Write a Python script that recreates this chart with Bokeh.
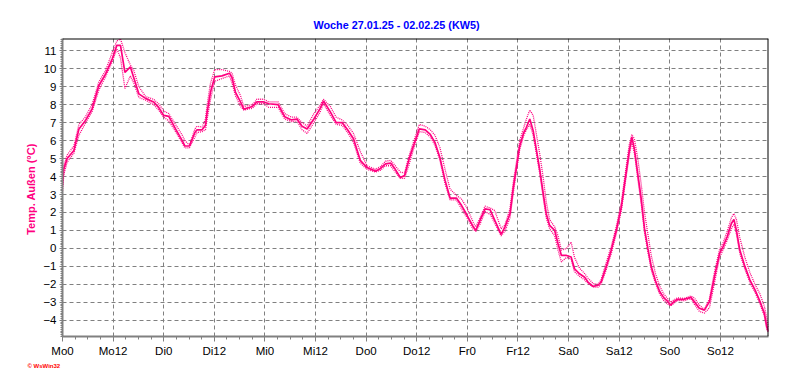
from bokeh.plotting import figure
from bokeh.models import Range1d, FixedTicker, Span, Title
from bokeh.embed import file_html
from bokeh.resources import INLINE

# ---- data (hours since Monday 00:00, temperature in °C) ----
hours = [0, 0.3, 1.1, 2.7, 3.9, 5.4, 7.0, 8.6, 10.2, 11.8, 12.9, 13.75, 14.8, 16.1, 16.9,
         18.1, 19.7, 21.6, 22.8, 24.0, 25.2, 26.8, 28.4, 29.0, 30.1, 31.4, 31.9, 33.1, 33.9,
         34.3, 35.1, 36.1, 37.8, 39.6, 40.2, 41.0, 42.2, 43.0, 45.0, 46.1, 47.7, 48.9, 51.1,
         52.7, 54.3, 55.6, 56.8, 58.0, 59.6, 61.0, 61.9, 63.5, 64.9, 66.3, 67.6, 69.0, 70.6,
         72.2, 74.2, 75.4, 76.6, 77.8, 78.9, 80.1, 81.1, 82.1, 83.2, 84.6, 86.0, 87.2, 88.3,
         89.5, 90.7, 91.9, 93.4, 94.6, 95.8, 97.4, 98.0, 99.0, 100.2, 101.4, 102.5, 104.0,
         104.9, 106.1, 106.9, 107.7, 108.4, 109.4, 110.0, 110.8, 111.6, 112.4, 113.2, 114.0,
         114.7, 115.5, 116.7, 117.5, 118.3, 119.5, 120.6, 121.4, 122.6, 123.8, 124.6, 125.8,
         127.0, 127.7, 128.9, 130.1, 131.3, 132.5, 133.6, 134.4, 135.0, 135.6, 136.4, 137.2,
         138.0, 138.8, 139.6, 140.6, 141.6, 142.6, 143.5, 144.2, 145.0, 145.8, 147.4, 149.0,
         149.8, 151.0, 152.2, 153.4, 154.6, 155.8, 156.6, 157.6, 158.6, 159.2, 159.8, 160.6,
         161.8, 163.0, 164.2, 165.4, 166.4, 167.0, 167.4]

temp = [3.5, 4.4, 5.0, 5.45, 6.65, 7.1, 7.75, 9.05, 9.7, 10.55, 11.3, 11.3, 9.8, 10.1, 9.5,
        8.6, 8.35, 8.15, 7.85, 7.4, 7.35, 6.65, 6.0, 5.7, 5.7, 6.45, 6.6, 6.6, 6.85,
        7.6, 8.7, 9.55, 9.6, 9.75, 9.5, 8.7, 8.15, 7.75, 7.9, 8.15, 8.15, 8.05, 8.0,
        7.33, 7.15, 7.2, 6.8, 6.65, 7.2, 7.75, 8.2, 7.6, 7.0, 7.0, 6.6, 6.1, 4.9,
        4.5, 4.3, 4.45, 4.7, 4.75, 4.4, 3.95, 4.05, 4.9, 5.7, 6.65, 6.6, 6.35, 5.9,
        5.05, 3.8, 2.8, 2.8, 2.4, 1.9, 1.2, 1.0, 1.56, 2.2, 2.15, 1.56, 0.78,
        1.19, 1.93, 3.4, 4.6, 5.7, 6.46, 6.74, 7.2, 6.55, 5.44, 4.33, 3.04,
        1.93, 1.28, 1.0, 0.26, -0.39, -0.39, -0.48, -1.13, -1.41, -1.6, -1.87, -2.11,
        -2.05, -1.87, -1.04, -0.11, 1.0, 2.3, 4.15, 5.44, 6.19, 5.54, 4.15, 2.8,
        1.1, 0.0, -1.0, -1.8, -2.4, -2.75, -2.95, -3.15, -2.96, -2.83, -2.83, -2.72,
        -2.96, -3.33, -3.43, -2.96, -1.57, -0.28, 0.09, 0.65, 1.39, 1.61, 1.0, -0.09,
        -1.0, -1.76, -2.31, -2.96, -3.6, -4.35, -4.6]

temp_hi = [3.9, 4.6, 5.2, 5.7, 6.9, 7.3, 8.0, 9.25, 9.9, 10.9, 11.55, 11.65, 10.9, 10.2, 9.9,
           9.0, 8.45, 8.3, 8.05, 7.65, 7.5, 6.9, 6.3, 6.0, 5.75, 6.65, 6.8, 6.75, 7.2,
           8.0, 9.2, 9.95, 9.95, 9.85, 9.75, 9.1, 8.5, 7.9, 8.0, 8.3, 8.3, 8.15, 8.15,
           7.5, 7.3, 7.3, 7.0, 6.8, 7.5, 7.95, 8.3, 7.9, 7.3, 7.15, 6.85, 6.4, 5.4,
           4.6, 4.4, 4.55, 4.85, 4.9, 4.6, 4.25, 4.2, 5.1, 5.9, 6.9, 6.8, 6.6, 6.3,
           5.6, 4.4, 3.3, 2.95, 2.75, 2.3, 1.45, 1.2, 1.7, 2.35, 2.25, 2.1, 1.1,
           1.3, 2.2, 3.7, 4.9, 6.0, 6.75, 7.2, 7.7, 7.4, 6.3, 5.2, 3.9,
           2.6, 1.6, 1.2, 0.7, -0.1, 0.0, 0.35, -0.5, -1.1, -1.4, -1.65, -1.95,
           -2.0, -1.75, -0.8, 0.1, 1.2, 2.55, 4.45, 5.8, 6.33, 6.1, 5.0, 3.6,
           2.0, 0.8, -0.4, -1.4, -2.1, -2.55, -2.8, -3.0, -2.85, -2.75, -2.78, -2.65,
           -2.75, -3.15, -3.4, -2.8, -1.3, -0.05, 0.3, 0.95, 1.7, 1.94, 1.6, 0.6,
           -0.5, -1.35, -2.0, -2.55, -3.2, -3.9, -4.4]

temp_lo = [3.2, 4.1, 4.8, 5.3, 6.3, 6.95, 7.6, 8.8, 9.55, 10.4, 11.1, 10.6, 8.9, 9.6, 9.2,
           8.4, 8.25, 8.0, 7.7, 7.3, 7.1, 6.5, 5.85, 5.6, 5.6, 6.2, 6.45, 6.5, 6.6,
           7.2, 8.3, 9.3, 9.45, 9.6, 9.2, 8.5, 7.9, 7.7, 7.8, 8.05, 8.05, 7.85, 7.85,
           7.2, 7.05, 7.1, 6.6, 6.4, 7.0, 7.55, 8.05, 7.4, 6.9, 6.85, 6.45, 5.9, 4.75,
           4.4, 4.25, 4.35, 4.6, 4.6, 4.25, 3.9, 3.9, 4.6, 5.5, 6.5, 6.45, 6.2, 5.75,
           4.9, 3.6, 2.7, 2.7, 2.2, 1.75, 1.05, 0.95, 1.35, 2.05, 1.9, 1.4, 0.7,
           0.95, 1.7, 3.1, 4.4, 5.5, 6.3, 6.6, 6.9, 6.3, 5.2, 4.1, 2.8,
           1.7, 1.1, 0.7, -0.1, -0.75, -0.5, -0.6, -1.3, -1.55, -1.75, -1.95, -2.15,
           -2.15, -2.0, -1.2, -0.3, 0.8, 2.1, 3.9, 5.2, 5.9, 5.3, 3.9, 2.5,
           0.9, -0.2, -1.2, -1.95, -2.55, -2.9, -3.1, -3.2, -3.05, -2.9, -2.9, -2.8,
           -3.1, -3.5, -3.6, -3.3, -1.9, -0.5, -0.1, 0.45, 1.1, 1.35, 0.8, -0.3,
           -1.15, -1.9, -2.45, -3.1, -3.75, -4.5, -4.65]

x_ticks = [0, 12, 24, 36, 48, 60, 72, 84, 96, 108, 120, 132, 144, 156]
x_tick_labels = ["Mo0", "Mo12", "Di0", "Di12", "Mi0", "Mi12", "Do0", "Do12",
                 "Fr0", "Fr12", "Sa0", "Sa12", "So0", "So12"]
x_minor = [h for h in range(0, 168, 3)]
y_ticks = list(range(-4, 12))
y_minor = [round(-4.9 + 0.1 * i, 1) for i in range(0, 167)]

x_min, x_max = 0, 167.4
y_min, y_max = -4.9, 11.68

title_text = "Woche 27.01.25 - 02.02.25 (KW5)"
y_label = "Temp. Außen  (°C)"
credit = "© WsWin32"

PINK = "#FF0080"
FONT = "Liberation Sans"

p = figure(width=784, height=379, output_backend="svg", toolbar_location=None,
           x_range=Range1d(x_min, x_max), y_range=Range1d(y_min, y_max),
           min_border_left=62, min_border_right=16, min_border_top=38, min_border_bottom=43,
           background_fill_color="white", border_fill_color="white")

p.title.text = title_text
p.title.align = "left"
p.title.offset = 251
p.title.standoff = 15
p.title.text_color = "#0000FF"
p.title.text_font = FONT
p.title.text_font_size = "10.8px"
p.title.text_font_style = "bold"

p.outline_line_color = None

# axes
xa = p.xaxis[0]
xa.ticker = FixedTicker(ticks=x_ticks, minor_ticks=x_minor)
xa.major_label_overrides = {t: l for t, l in zip(x_ticks, x_tick_labels)}
ya = p.yaxis[0]
ya.ticker = FixedTicker(ticks=y_ticks, minor_ticks=y_minor)
ya.axis_label = y_label
ya.axis_label_text_color = PINK
ya.axis_label_text_font = FONT
ya.axis_label_text_font_size = "11px"
ya.axis_label_text_font_style = "bold"
ya.axis_label_standoff = 3

for ax in (xa, ya):
    ax.axis_line_color = "#808080"
    ax.axis_line_width = 2
    ax.major_tick_line_color = "#808080"
    ax.minor_tick_line_color = "#808080"
    ax.major_tick_in = 0
    ax.minor_tick_in = 0
    ax.major_label_text_font = FONT
    ax.major_label_text_font_size = "11.5px"
    ax.major_label_text_color = "black"
xa.major_tick_out = 5
xa.minor_tick_out = 3
xa.major_label_standoff = 3
ya.major_tick_out = 3
ya.minor_tick_out = 2
ya.major_label_standoff = 3

# grid
p.xgrid.ticker = FixedTicker(ticks=x_ticks)
p.ygrid.ticker = FixedTicker(ticks=y_ticks)
for g in (p.xgrid, p.ygrid):
    g.grid_line_color = "#808080"
    g.grid_line_dash = "4 3"
    g.grid_line_width = 1

# top and right borders
p.add_layout(Span(location=y_max, dimension="width", line_color="black", line_width=2))
p.add_layout(Span(location=x_max, dimension="height", line_color="black", line_width=2))

# series
p.line(hours, temp_hi, line_color=PINK, line_width=1.3, line_dash="1 1")
p.line(hours, temp_lo, line_color=PINK, line_width=1.3, line_dash="1 1")
p.line(hours, temp, line_color=PINK, line_width=1.7)

# credit text below the x axis
p.add_layout(Title(text=credit, align="left", offset=-35, standoff=2,
                   text_color="#FF0000", text_font=FONT, text_font_size="6px",
                   text_font_style="bold"), "below")

open("out.html", "w").write(file_html(p, INLINE))
